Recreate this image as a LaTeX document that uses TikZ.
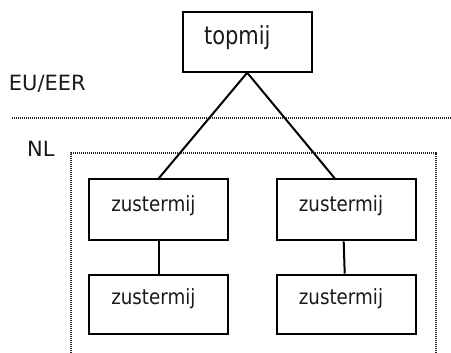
\documentclass[tikz,border=0pt]{standalone}
\usepackage{fontspec}
\setmainfont{DejaVu Sans}
\newfontfamily\boxfont[FakeStretch=0.87]{DejaVu Sans}
\newfontfamily\topfont[FakeStretch=0.84]{DejaVu Sans}
\begin{document}
\begin{tikzpicture}[x=1pt,y=-1pt,
  box/.style={draw=black,line width=2pt,rectangle,inner sep=0pt,minimum width=139pt,minimum height=61pt},
  boxtxt/.style={anchor=base,inner sep=0pt,text=black!90,font=\boxfont\fontsize{21}{21}\selectfont},
  lbl/.style={anchor=base,inner sep=0pt,text=black!90,font=\fontsize{21}{21}\selectfont},
  conn/.style={line width=2pt,black},
  dotline/.style={line width=2pt,black!85,dash pattern=on 1.1pt off 0.9pt}]
\useasboundingbox (0,0) rectangle (451,353);
% boxes
\node[box,minimum width=129pt,minimum height=59.4pt] (top) at (247.2,42) {};
\node[box] (z1) at (158.8,209.8) {};
\node[box] (z2) at (346.2,209.8) {};
\node[box,minimum height=59.3pt] (z3) at (158.8,304.3) {};
\node[box,minimum height=59.3pt] (z4) at (346.2,304.3) {};
% texts
\node[boxtxt,font=\topfont\fontsize{25}{25}\selectfont] (ttop) at (237.3,45) {topmij};
\node[boxtxt] (t1) at (153.4,211.7) {zustermij};
\node[boxtxt] (t2) at (341,211.7) {zustermij};
\node[boxtxt] (t3) at (153.4,305) {zustermij};
\node[boxtxt] (t4) at (341,305) {zustermij};
\node[lbl] (eu) at (47.3,90.7) {EU/EER};
\node[lbl] (nl) at (40.8,156.7) {NL};
% dotted borders
\coordinate (hl) at (12,118);
\coordinate (hr) at (451,118);
\draw[dotline] (hl) -- (hr);
\coordinate (bl) at (71,353);
\coordinate (tl) at (71,153);
\coordinate (tr) at (436,153);
\coordinate (br) at (436,353);
\draw[dotline] (bl) -- (tl) -- (tr) -- (br);
% connectors
\draw[conn] (top.south) -- (z1.north);
\draw[conn] (top.south) -- ([xshift=-11.5pt]z2.north);
\draw[conn] (z1.south) -- (z3.north);
\draw[conn] ([xshift=-2.5pt]z2.south) -- ([xshift=-1.5pt]z4.north);
\end{tikzpicture}
\end{document}
